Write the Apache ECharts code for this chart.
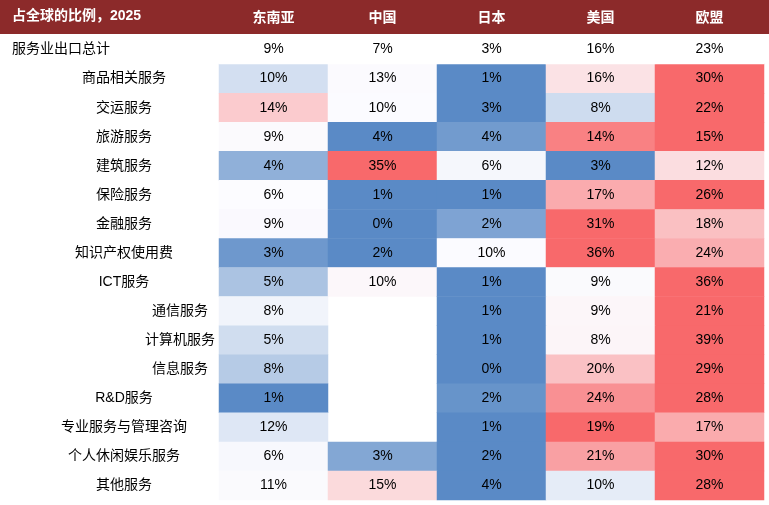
<!DOCTYPE html>
<html>
<head>
<meta charset="utf-8">
<script src="https://cdn.jsdelivr.net/npm/echarts@6/dist/echarts.min.js"></script>
<style>html,body{margin:0;padding:0;background:#fff}#chart{width:769px;height:505px}</style>
</head>
<body>
<div id="chart"></div>
<script>
// 列（地区）与行（服务类别）
var regions = ['东南亚', '中国', '日本', '美国', '欧盟'];
var rowNames = ['服务业出口总计', '商品相关服务', '交运服务', '旅游服务', '建筑服务', '保险服务', '金融服务',
	'知识产权使用费', 'ICT服务', '通信服务', '计算机服务', '信息服务', 'R&D服务', '专业服务与管理咨询',
	'个人休闲娱乐服务', '其他服务'];
// 占全球的比例(%)，null 表示空白
var totalRow = [9, 7, 3, 16, 23];
var shareRows = [
	[10, 13, 1, 16, 30],
	[14, 10, 3, 8, 22],
	[9, 3.6, 4.4, 14, 15],
	[4, 35, 6, 3, 12],
	[6, 1, 1, 17, 26],
	[9, 0, 2, 31, 18],
	[3, 2, 10, 36, 24],
	[5, 10, 1, 9, 36],
	[8, null, 1, 9, 21],
	[5, null, 1, 8, 39],
	[8, null, 0, 20, 29],
	[1, null, 2, 24, 28],
	[12, null, 1, 19, 17],
	[6, 3, 2, 21, 30],
	[11, 15, 4, 10, 28]
];
var subRows = ['通信服务', '计算机服务', '信息服务'];

var BLUE = [90, 138, 198], WHITE = [252, 252, 255], RED = [248, 105, 107];
function mix(a, b, t) {
	return 'rgb(' + a.map(function(v, i) { return Math.round(v + (b[i] - v) * t); }).join(',') + ')';
}
// 三色刻度：中点取中位数
function stops(vals) {
	var s = vals.slice().sort(function(a, b) { return a - b; });
	var n = s.length, med = n % 2 ? s[(n - 1) / 2] : (s[n / 2 - 1] + s[n / 2]) / 2;
	var lo = s[0], hi = s[n - 1], m = (med - lo) / (hi - lo), out = [];
	for (var k = 0; k <= 60; k++) {
		var t = k / 60;
		out.push(t <= m ? mix(BLUE, WHITE, m ? t / m : 1) : mix(WHITE, RED, (t - m) / (1 - m)));
	}
	return {min: lo, max: hi, color: out};
}

var font = 'Liberation Sans, Noto Sans CJK SC, sans-serif';
var visualMaps = [], series = [];
shareRows.forEach(function(row, r) {
	var vals = row.filter(function(v) { return v !== null; });
	var st = stops(vals);
	visualMaps.push({type: 'continuous', show: false, seriesIndex: r, dimension: 2,
		min: st.min, max: st.max, inRange: {color: st.color}});
	var data = [];
	row.forEach(function(v, c) { if (v !== null) data.push([c, r + 1, v]); });
	series.push({
		type: 'heatmap', data: data, itemStyle: {borderWidth: 0},
		label: {show: true, color: '#000', fontSize: 14, fontFamily: font,
			formatter: function(p) { return Math.round(p.value[2]) + '%'; }}
	});
});
// 总计行：不着色
series.push({
	type: 'heatmap', itemStyle: {color: '#fff', borderWidth: 0},
	data: totalRow.map(function(v, c) { return [c, 0, v]; }),
	label: {show: true, color: '#000', fontSize: 14, fontFamily: font,
		formatter: function(p) { return p.value[2] + '%'; }}
});

var chart = echarts.init(document.getElementById('chart'));
chart.setOption({
	animation: false,
	grid: {left: 219, right: 5, top: 35, bottom: 5},
	graphic: [
		{type: 'rect', z: -1, shape: {x: 0, y: 0, width: 769, height: 34}, style: {fill: '#8C2A2A'}},
		{type: 'text', left: 12, top: 9, style: {text: '占全球的比例，2025', fill: '#fff', font: 'bold 14px ' + font}}
	],
	xAxis: {
		type: 'category', position: 'top', data: regions,
		axisLine: {show: false}, axisTick: {show: false}, splitLine: {show: false},
		axisLabel: {color: '#fff', fontWeight: 'bold', fontSize: 14, fontFamily: font, margin: 10}
	},
	yAxis: {
		type: 'category', inverse: true, data: rowNames,
		axisLine: {show: false}, axisTick: {show: false}, splitLine: {show: false},
		axisLabel: {
			align: 'center', margin: 95, fontSize: 14, color: '#000', fontFamily: font,
			formatter: function(v, i) {
				if (i === 0) return '{tot|' + v + '}';
				if (subRows.indexOf(v) >= 0) return '{sub|' + v + '}';
				return '{n|' + v + '}';
			},
			rich: {
				tot: {fontSize: 14, fontFamily: font, padding: [0, 126, 0, 0]},
				sub: {fontSize: 14, fontFamily: font, padding: [0, 0, 0, 112]},
				n: {fontSize: 14, fontFamily: font}
			}
		}
	},
	visualMap: visualMaps,
	series: series
});
</script>
</body>
</html>
